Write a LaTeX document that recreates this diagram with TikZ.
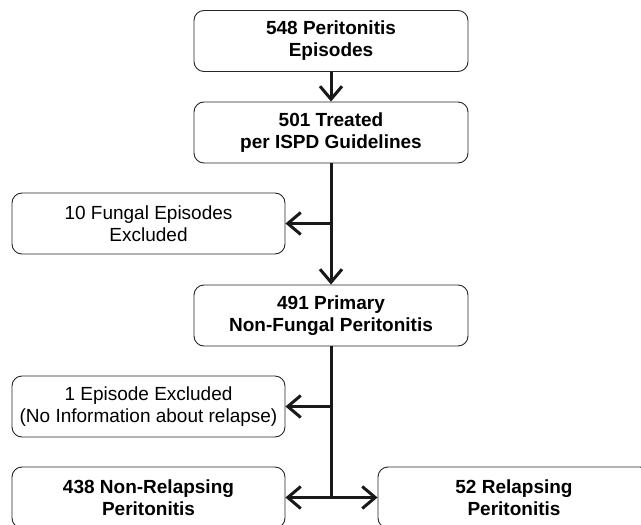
\documentclass[tikz,border=0pt]{standalone}
\usepackage{fontspec}
\setmainfont{Liberation Sans}
\usetikzlibrary{arrows.meta}
\tikzset{
  box/.style={draw=black!85, line width=0.9pt, rounded corners=10pt, align=center,
    minimum width=#1, minimum height=61pt, inner sep=0pt,
    font=\fontsize{19}{22}\selectfont},
  box/.default=274pt,
  bbox/.style={box=#1, font=\fontsize{19}{22}\selectfont\bfseries},
  bbox/.default=274pt,
  arr/.style={line width=3pt, draw=black!90, -{Straight Barb[length=13pt,width=22pt,line width=3pt]}},
  ln/.style={line width=3pt, draw=black!90},
}
\begin{document}
\begin{tikzpicture}[x=1pt,y=-1pt]
\useasboundingbox (0,0) rectangle (641,525);
\node[bbox] (b1) at (331,41) {548 Peritonitis\\Episodes};
\node[bbox] (b2) at (331,132.5) {501 Treated\\per ISPD Guidelines};
\node[box=273pt] (f) at (148.5,223.5) {10 Fungal Episodes\\Excluded};
\node[bbox] (b3) at (331,315.5) {491 Primary\\Non-Fungal Peritonitis};
\node[box=273pt] (e) at (148.5,406.5) {1 Episode Excluded\\(No Information about relapse)};
\node[bbox=273pt] (nr) at (148.5,497.5) {438 Non-Relapsing\\Peritonitis};
\node[bbox=272pt] (r) at (514,497.5) {52 Relapsing\\Peritonitis};
\coordinate (j1) at (331,223.5);
\coordinate (j2) at (331,406.5);
\coordinate (j3) at (331,497.5);
\draw[arr] (b1.south) -- (b2.north);
\draw[arr] (b2.south) -- (b3.north);
\draw[arr] (j1) -- (f.east);
\draw[ln] (b3.south) -- (j3);
\draw[arr] (j2) -- (e.east);
\draw[arr] (j3) -- (nr.east);
\draw[arr] (j3) -- (r.west);
\end{tikzpicture}
\end{document}
